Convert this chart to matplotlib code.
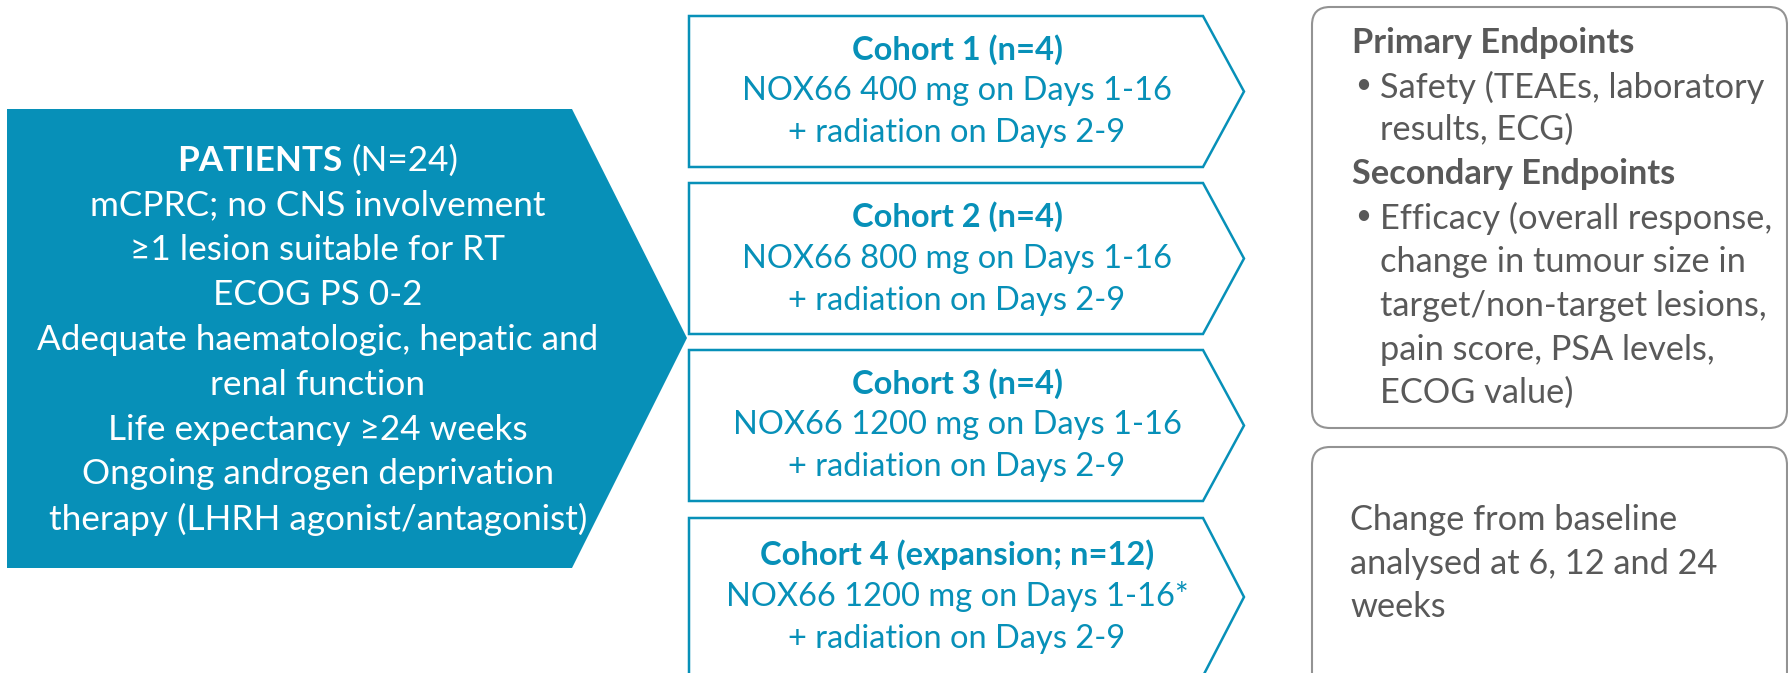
import matplotlib
matplotlib.use("Agg")
import matplotlib.pyplot as plt
from matplotlib.patches import Polygon, FancyBboxPatch

# ---------------- data ----------------
patients_label = "PATIENTS"
patients_count = "(N=24)"
patient_criteria = [
    "mCPRC; no CNS involvement",
    "\u22651 lesion suitable for RT",
    "ECOG PS 0-2",
    "Adequate haematologic, hepatic and",
    "renal function",
    "Life expectancy \u226524 weeks",
    "Ongoing androgen deprivation",
    "therapy (LHRH agonist/antagonist)",
]
cohort_titles = ["Cohort 1 (n=4)", "Cohort 2 (n=4)", "Cohort 3 (n=4)",
                 "Cohort 4 (expansion; n=12)"]
cohort_doses = ["NOX66 400 mg on Days 1-16", "NOX66 800 mg on Days 1-16",
                "NOX66 1200 mg on Days 1-16", "NOX66 1200 mg on Days 1-16*"]
cohort_radiation = ["+ radiation on Days 2-9"] * 4
primary_header = "Primary Endpoints"
primary_items = [["Safety (TEAEs, laboratory", "results, ECG)"]]
secondary_header = "Secondary Endpoints"
secondary_items = [["Efficacy (overall response,", "change in tumour size in",
                    "target/non-target lesions,", "pain score, PSA levels,",
                    "ECOG value)"]]
timing_lines = ["Change from baseline", "analysed at 6, 12 and 24", "weeks"]

# ---------------- style ----------------
TEAL = "#0790B8"
GRAY_TXT = "#595959"
GRAY_EDGE = "#939393"
FAM = ["Lato", "DejaVu Sans"]
W, H = 1788, 673

fig = plt.figure(figsize=(W / 100, H / 100), dpi=100)
ax = fig.add_axes([0, 0, 1, 1])
ax.set_xlim(0, W)
ax.set_ylim(H, 0)
ax.axis("off")
renderer = fig.canvas.get_renderer()


def measure(s, size, weight="normal"):
    t = ax.text(0, 0, s, fontsize=size, family=FAM, fontweight=weight)
    w = t.get_window_extent(renderer).width
    t.remove()
    return w


def fit(s, target, weight="normal"):
    return 20 * target / measure(s, 20, weight)


left_size = fit("Adequate haematologic, hepatic and", 562)
cohort_size = fit("NOX66 400 mg on Days 1-16", 430)
right_size = fit("Efficacy (overall response,", 393)

# ---------------- left pentagon ----------------
ax.add_patch(Polygon([(7, 109), (572, 109), (687, 338), (572, 568), (7, 568)],
                     closed=True, facecolor=TEAL, edgecolor="none"))
cx_left = 318
y0, dy = 161, 44.75
w1 = measure(patients_label, left_size, "bold")
sp = measure("a a", left_size) - measure("aa", left_size)
w2 = measure(patients_count, left_size)
x0 = cx_left - (w1 + sp + w2) / 2
ax.text(x0, y0, patients_label, fontsize=left_size, family=FAM, fontweight="bold",
        color="white", ha="left", va="center")
ax.text(x0 + w1 + sp, y0, patients_count, fontsize=left_size, family=FAM,
        color="white", ha="left", va="center")
for i, line in enumerate(patient_criteria):
    ax.text(cx_left, y0 + dy * (i + 1), line, fontsize=left_size, family=FAM,
            color="white", ha="center", va="center")

# ---------------- cohort arrows ----------------
tops = [16, 183, 350, 518]
heights = [151, 151, 151, 158]
xl, xf, xt = 689, 1203, 1244
cx_c = 957
for k in range(len(cohort_titles)):
    t, h = tops[k], heights[k]
    ax.add_patch(Polygon([(xl, t), (xf, t), (xt, t + h / 2), (xf, t + h), (xl, t + h)],
                         closed=True, facecolor="white", edgecolor=TEAL, lw=1.8))
    cy = t + h / 2
    ax.text(cx_c, cy - 42, cohort_titles[k], fontsize=cohort_size, family=FAM,
            fontweight="bold", color=TEAL, ha="center", va="center")
    ax.text(cx_c, cy, cohort_doses[k], fontsize=cohort_size, family=FAM,
            color=TEAL, ha="center", va="center")
    ax.text(cx_c, cy + 42, cohort_radiation[k], fontsize=cohort_size, family=FAM,
            color=TEAL, ha="center", va="center")

# ---------------- right boxes ----------------
for (bx, by, bw, bh) in [(1312, 7, 475, 421), (1312, 447, 475, 260)]:
    ax.add_patch(FancyBboxPatch((bx, by), bw, bh,
                                boxstyle="round,pad=0,rounding_size=18",
                                facecolor="white", edgecolor=GRAY_EDGE, lw=1.5))

ys = [43, 87, 130, 174, 218, 262, 306, 350, 393]
x_head, x_bul, x_txt = 1352, 1355, 1380
rows = [("head", primary_header)]
for item in primary_items:
    for j, l in enumerate(item):
        rows.append(("bul" if j == 0 else "cont", l))
rows.append(("head", secondary_header))
for item in secondary_items:
    for j, l in enumerate(item):
        rows.append(("bul" if j == 0 else "cont", l))
for (kind, txt), y in zip(rows, ys):
    if kind == "head":
        ax.text(x_head, y, txt, fontsize=right_size, family=FAM, fontweight="bold",
                color=GRAY_TXT, ha="left", va="center")
    else:
        if kind == "bul":
            ax.text(x_bul, y - 2, "\u2022", fontsize=right_size * 0.8, family=FAM,
                    color=GRAY_TXT, ha="left", va="center")
        ax.text(x_txt, y, txt, fontsize=right_size, family=FAM,
                color=GRAY_TXT, ha="left", va="center")

for line, y in zip(timing_lines, [520, 564, 607]):
    ax.text(1350, y, line, fontsize=right_size, family=FAM, color=GRAY_TXT,
            ha="left", va="center")

fig.savefig("out.png", dpi=100)
